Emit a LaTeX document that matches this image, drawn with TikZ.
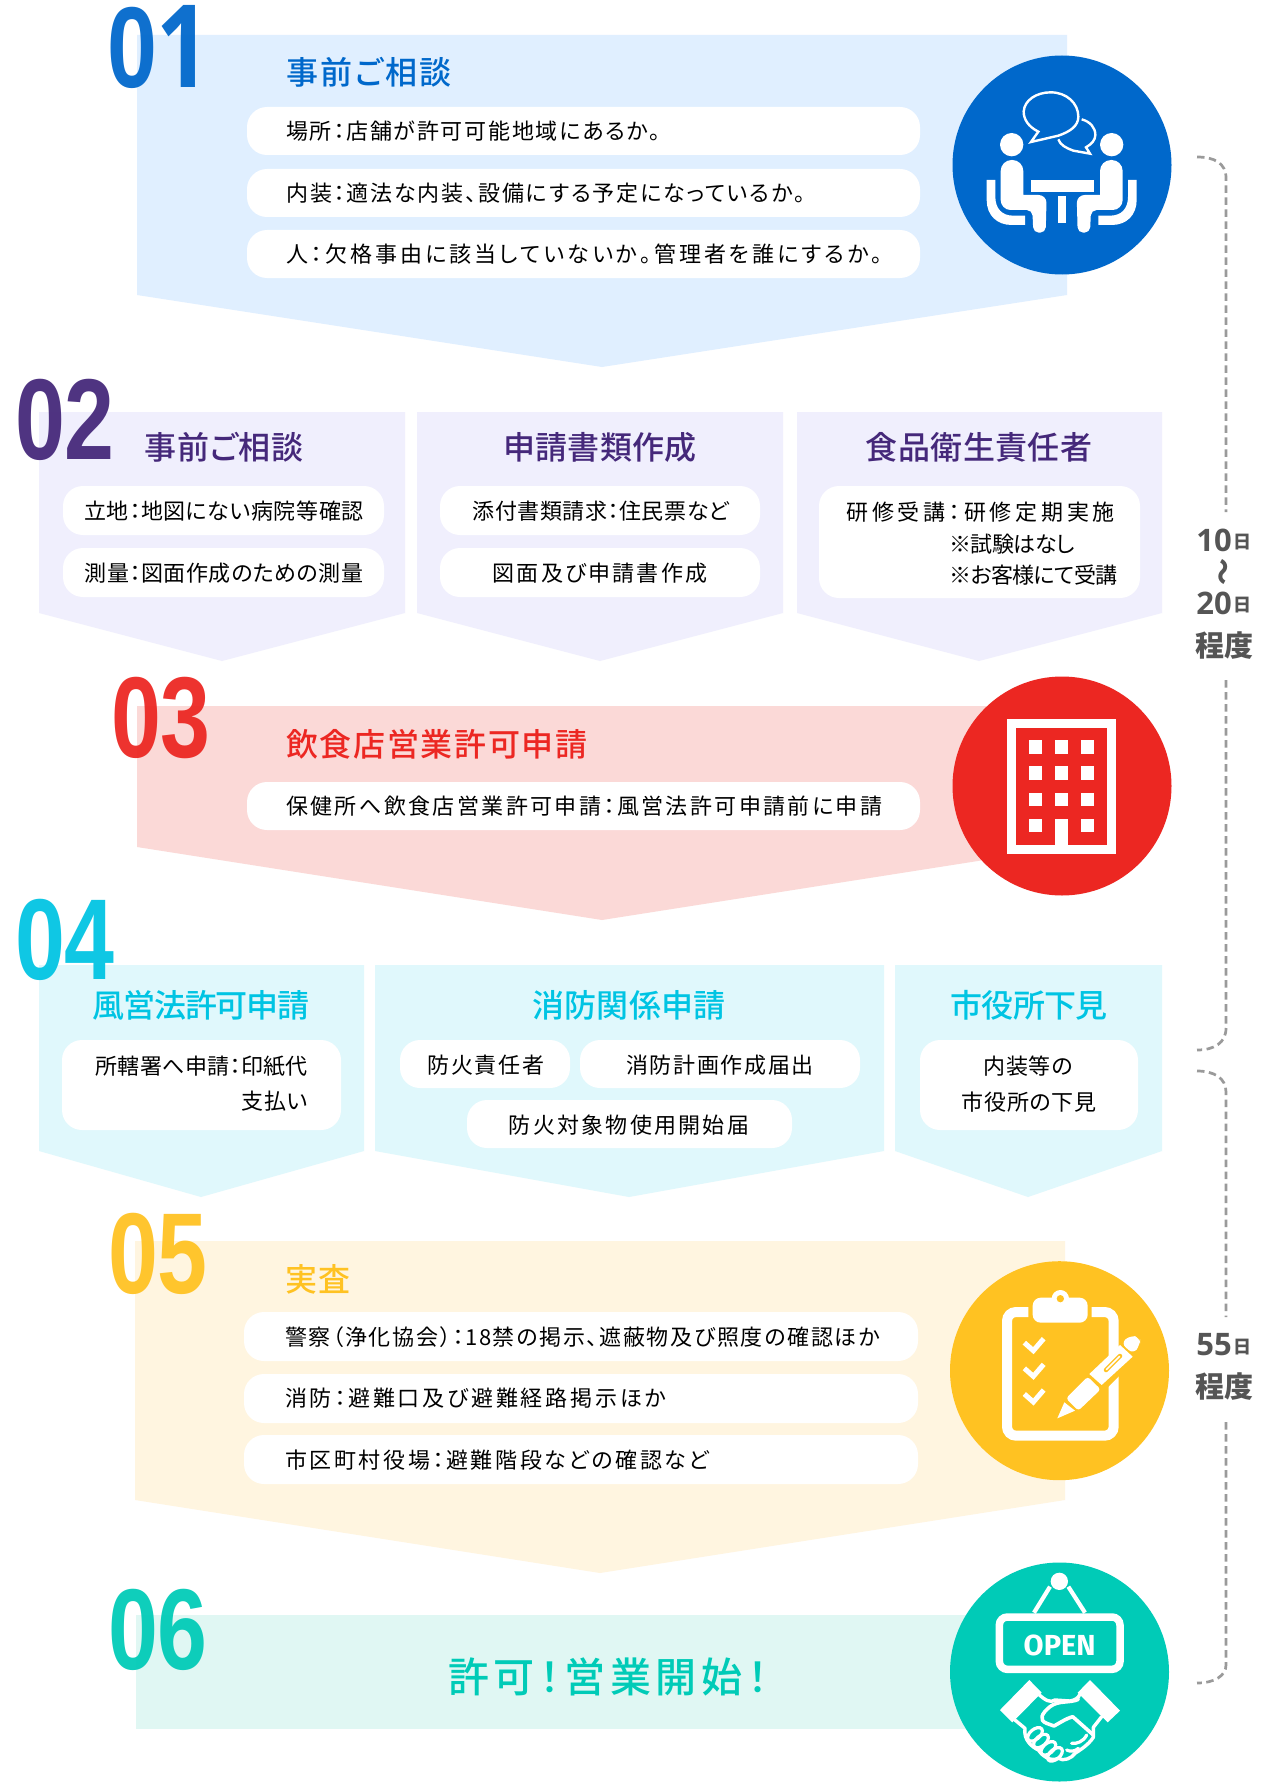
\documentclass[tikz,border=0pt]{standalone}
\usepackage{fontspec}
\setmainfont{Noto Sans CJK JP}[RawFeature={+palt}]
\newfontfamily\jpbody{Noto Sans CJK JP}[RawFeature={+palt}]
\newfontfamily\jptitle{Noto Sans CJK JP Medium}[RawFeature={+palt}]
\newfontfamily\numfont{Liberation Sans}[FakeStretch=0.78]
\newfontfamily\numone{Open Sans}[FakeStretch=0.82]
\newfontfamily\timefont{Open Sans}
\newfontfamily\openfont{Fira Sans}
\newcommand{\ls}[1]{\addfontfeature{LetterSpace=#1}}
\definecolor{cblue}{HTML}{0068CB}
\definecolor{cpurple}{HTML}{45287A}
\definecolor{cred}{HTML}{EC2722}
\definecolor{ccyan}{HTML}{00C4E3}
\definecolor{cyellow}{HTML}{FFC222}
\definecolor{cteal}{HTML}{00CBB7}
\definecolor{pblue}{HTML}{E0EFFF}
\definecolor{ppurple}{HTML}{F0EFFD}
\definecolor{pred}{HTML}{FBD9D7}
\definecolor{pcyan}{HTML}{E0F8FC}
\definecolor{pyellow}{HTML}{FFF5E0}
\definecolor{pteal}{HTML}{E0F7F3}
\definecolor{cgrey}{HTML}{555555}
\definecolor{cdash}{HTML}{9A9A9A}
\tikzset{
  pillshape/.style={fill=white,rounded corners=20pt},
  body/.style={inner sep=0,text=black,font=\jpbody\fontsize{22}{26}\selectfont,text height=19.4pt,text depth=2.6pt},
  bodyl/.style={body,anchor=west},
  bodyr/.style={body,anchor=east},
  title/.style={inner sep=0,font=\jptitle\fontsize{32}{36}\selectfont,text height=28pt,text depth=4pt},
  titlel/.style={title,anchor=west},
  bigtitle/.style={inner sep=0,font=\jptitle\fontsize{41}{44}\selectfont,text height=36pt,text depth=5pt},
  num/.style={inner sep=0,font=\numfont\bfseries\fontsize{115}{115}\selectfont,text height=83pt,text depth=0pt,text opacity=.94},
  timenum/.style={inner sep=0,text=cgrey,font=\timefont\bfseries\fontsize{31}{34}\selectfont},
  timecjk/.style={inner sep=0,text=cgrey,font=\bfseries\fontsize{18}{20}\selectfont},
  timeword/.style={inner sep=0,text=cgrey,font=\bfseries\fontsize{29}{32}\selectfont},
  timedash/.style={cdash,line width=2.7pt,dash pattern=on 7.5pt off 4.5pt},
}
\newcommand{\personpath}{%
  \fill[white] [rounded corners=11pt] (212,430) -- (212,360) -- (280,360) -- (280,440) [rounded corners=0pt] -- (280,465) [rounded corners=8pt] -- (350,465) [rounded corners=5.5pt] -- (347,578) -- (310,578) -- (307,510) [rounded corners=10pt] -- (212,510) -- cycle;
  \fill[white] (170,420) -- (196,420) -- (196,470) .. controls (196,505) and (215,527) .. (250,527) -- (285,527) -- (285,555) -- (245,555) .. controls (200,555) and (170,525) .. (170,480) -- cycle;
  \fill[white] (245,314) circle[radius=35];
}
\begin{document}
\begin{tikzpicture}[x=1pt,y=-1pt]
\useasboundingbox (0,0) rectangle (1278,1787);
\fill[white] (0,0) rectangle (1278,1787);
% panels
\fill[pblue] (137,35) -- (1067,35) -- (1067,295) -- (602,367) -- (137,295) -- cycle;
\fill[ppurple] (39,412) -- (405,412) -- (405,613) -- (222,661) -- (39,613) -- cycle;
\fill[ppurple] (417,412) -- (783,412) -- (783,613) -- (600,661) -- (417,613) -- cycle;
\fill[ppurple] (797,412) -- (1162,412) -- (1162,613) -- (979,661) -- (797,613) -- cycle;
\fill[pred] (137,706) -- (1067,706) -- (1067,847) -- (602,920) -- (137,847) -- cycle;
\fill[pcyan] (39,965) -- (364,965) -- (364,1151) -- (201,1197) -- (39,1151) -- cycle;
\fill[pcyan] (375,965) -- (884,965) -- (884,1151) -- (629,1197) -- (375,1151) -- cycle;
\fill[pcyan] (895,965) -- (1162,965) -- (1162,1151) -- (1028,1197) -- (895,1151) -- cycle;
\fill[pyellow] (135,1241) -- (1065,1241) -- (1065,1500) -- (600,1573) -- (135,1500) -- cycle;
\fill[pteal] (136,1615) rectangle (1060,1729);
% pills
\fill[pillshape] (247,107) rectangle (920,155);
\fill[pillshape] (247,169) rectangle (920,217);
\fill[pillshape] (247,230) rectangle (920,278);
\fill[pillshape] (63,486) rectangle (384,535);
\fill[pillshape] (63,548) rectangle (384,597);
\fill[pillshape] (440,486) rectangle (760,535);
\fill[pillshape] (440,548) rectangle (760,597);
\fill[pillshape] (819,486) rectangle (1140,598);
\fill[pillshape] (247,782) rectangle (920,830);
\fill[pillshape] (62,1040) rectangle (341,1130);
\fill[pillshape] (400,1040) rectangle (570,1088);
\fill[pillshape] (580,1040) rectangle (860,1088);
\fill[pillshape] (467,1100) rectangle (792,1148);
\fill[pillshape] (920,1040) rectangle (1138,1130);
\fill[pillshape] (244,1312) rectangle (918,1361);
\fill[pillshape] (244,1374) rectangle (918,1423);
\fill[pillshape] (244,1435) rectangle (918,1484);
% numbers
\node[num,text=cblue] (n1) at (159,46) {0\hspace{-1pt}{\numone\bfseries 1}};
\node[num,text=cpurple] (n2) at (65,418) {02};
\node[num,text=cred] (n3) at (161,716) {03};
\node[num,text=ccyan] (n4) at (65,938) {04};
\node[num,text=cyellow] (n5) at (158,1252) {05};
\node[num,text=cteal] (n6) at (158,1628) {06};
% section 1
\node[titlel,text=cblue] (t1) at (286,73) {\ls{7.4}事前ご相談};
\node[bodyl] (a1) at (286,131) {\ls{7.9}場所：店舗が許可可能地域にあるか。};
\node[bodyl] (a2) at (286,193) {\ls{8.4}内装：適法な内装、設備にする予定になっているか。};
\node[bodyl] (a3) at (286,254) {\ls{13.8}人：欠格事由に該当していないか。管理者を誰にするか。};
% section 2
\node[title,text=cpurple] (t2a) at (224,447) {\ls{2.4}事前ご相談};
\node[title,text=cpurple] (t2b) at (600,447) {\ls{1.2}申請書類作成};
\node[title,text=cpurple] (t2c) at (979,447) {\ls{1.4}食品衛生責任者};
\node[body] (b1) at (224,511) {\ls{2.5}立地：地図にない病院等確認};
\node[body] (b2) at (224,573) {\ls{2.5}測量：図面作成のための測量};
\node[body] (b3) at (601,511) {\ls{2.5}添付書類請求：住民票など};
\node[body] (b4) at (600,573) {\ls{9.8}図面及び申請書作成};
\node[bodyr] (b5) at (1115,512) {\ls{17}研修受講：研修定期実施};
\node[bodyl] (b6) at (949,544) {\ls{-2}※試験はなし};
\node[bodyl] (b7) at (949,575) {\ls{-2.8}※お客様にて受講};
% section 3
\node[titlel,text=cred] (t3) at (286,744) {\ls{5.2}飲食店営業許可申請};
\node[bodyl] (c1) at (286,806) {\ls{10.9}保健所へ飲食店営業許可申請：風営法許可申請前に申請};
% section 4
\node[title,text=ccyan] (t4a) at (201,1005) {\ls{-3.7}風営法許可申請};
\node[title,text=ccyan] (t4b) at (629,1005) {\ls{1.2}消防関係申請};
\node[title,text=ccyan] (t4c) at (1029,1005) {\ls{-2.5}市役所下見};
\node[bodyr] (d1) at (308,1066) {\ls{1.5}所轄署へ申請：印紙代};
\node[bodyr] (d2) at (308,1101) {\ls{3}支払い};
\node[body] (d3) at (486,1065) {\ls{7}防火責任者};
\node[body] (d4) at (720,1065) {\ls{7.5}消防計画作成届出};
\node[body] (d5) at (629,1125) {\ls{10.3}防火対象物使用開始届};
\node[body] (d6) at (1028,1066) {\ls{3}内装等の};
\node[body] (d7) at (1029,1102) {\ls{3}市役所の下見};
% section 5
\node[titlel,text=cyellow] (t5) at (285,1279) {\ls{5}実査};
\node[bodyl] (e1) at (285,1337) {\ls{7.6}警察（浄化協会）：18禁の掲示、遮蔽物及び照度の確認ほか};
\node[bodyl] (e2) at (285,1398) {\ls{12.5}消防：避難口及び避難経路掲示ほか};
\node[bodyl] (e3) at (285,1460) {\ls{11.8}市区町村役場：避難階段などの確認など};
% section 6
\node[bigtitle,text=cteal] (t6) at (608,1677) {\ls{11.4}許可！営業開始！};
% circles
\fill[cblue] (1062,165) circle[radius=109.5];
\fill[cred] (1062,786) circle[radius=109.5];
\fill[cyellow] (1059.5,1370.7) circle[radius=109.5];
\fill[cteal] (1059.5,1672) circle[radius=109.5];
% icon 1
\begin{scope}[shift={(930,40)},scale=0.33333]
  \personpath
  \begin{scope}[shift={(790,0)},xscale=-1]\personpath\end{scope}
  \fill[white] (304,420) rectangle (492,455);
  \fill[white] (384,468) rectangle (407,548);
  \draw[white,line width=2.4pt,line join=miter] (325,275) .. controls (295,260) and (281,238) .. (281,215) .. controls (283,180) and (320,157) .. (362,157) .. controls (410,157) and (445,190) .. (445,230) .. controls (445,258) and (420,275) .. (385,287) -- (303,306) -- cycle;
  \draw[white,line width=2.4pt,line join=miter] (455,238) .. controls (480,245) and (496,262) .. (496,285) .. controls (496,300) and (485,312) .. (468,322) -- (480,341) -- (430,332) .. controls (410,325) and (390,315) .. (385,298);
\end{scope}
% icon 3
\begin{scope}[shift={(930,660)},scale=0.33333]
  \fill[white] (232,176) rectangle (558,581);
  \fill[cred] (258,203) rectangle (532,554);
  \foreach \wx in {297,375,453}{\foreach \wy in {241,319,398}{\fill[white] (\wx,\wy) rectangle +(40,40);}}
  \fill[white] (297,476) rectangle +(40,40);
  \fill[white] (453,476) rectangle +(40,40);
  \fill[white] (375,476) rectangle (415,581);
\end{scope}
% icon 5
\begin{scope}[shift={(930,1250)},scale=0.33333]
  \draw[white,line width=10pt,rounded corners=9pt] (295,186) -- (231,186) -- (231,557) -- (551,557) -- (551,186) -- (485,186);
  \fill[white] (391,146) circle[radius=26];
  \fill[white,rounded corners=8pt] (308,143) rectangle (473,218);
  \fill[cyellow] (391,146) circle[radius=11];
  \foreach \cy in {0,77,154}{\draw[white,line width=5pt] (283,278+\cy) -- (310,302+\cy) -- (341,266+\cy);}
  % pen halo and body
  \fill[cyellow] (395,470) -- (595,262) -- (625,320) -- (445,500) -- cycle;
  \fill[white,rounded corners=3pt] (408,445) -- (473,380) -- (512,418) -- (445,482) -- cycle;
  \fill[white] (478,372) -- (570,285) -- (608,320) -- (515,405) -- cycle;
  \fill[white,rounded corners=6pt] (573,280) -- (600,256) -- (630,262) -- (630,285) -- (610,312) -- cycle;
  \fill[white] (403,457) -- (382,505) -- (435,482) -- cycle;
  \draw[cyellow,line width=4.5pt,line cap=round] (528,360) -- (570,318);
  \draw[white,line width=1.6pt,line cap=round] (529,359) -- (569,319);
\end{scope}
% icon 6
\begin{scope}[shift={(930,1540)},scale=0.33333]
  \fill[white] (388,124) circle[radius=26];
  \draw[white,line width=4.2pt] (360,140) -- (312,218);
  \draw[white,line width=4.2pt] (415,140) -- (465,218);
  \draw[white,line width=7.5pt,rounded corners=8pt] (208,231) rectangle (570,388);
  \node[inner sep=0,text=white,font=\openfont\bfseries\fontsize{29}{30}\selectfont] (open) at (389,315) {OPEN};
  \fill[white] (298,420) -- (335,458) -- (247,547) -- (210,510) -- cycle;
  \fill[white] (480,420) -- (570,512) -- (533,547) -- (443,458) -- cycle;
  \draw[white,line width=3.4pt,line join=round,line cap=round] (325,462) .. controls (345,480) and (360,490) .. (375,480) -- (420,483) .. controls (435,480) and (445,475) .. (450,462);
  \draw[white,line width=3.6pt,line join=round,line cap=round] (445,478) .. controls (420,490) and (385,480) .. (360,500) .. controls (335,520) and (325,540) .. (350,550) -- (372,558) .. controls (395,545) and (410,535) .. (428,530) -- (490,585);
  \draw[white,line width=3.4pt,line join=round,line cap=round] (515,530) -- (490,562) -- (490,592) .. controls (475,615) and (450,630) .. (435,640) .. controls (425,655) and (400,665) .. (385,655) .. controls (360,665) and (340,650) .. (325,630) .. controls (305,620) and (280,600) .. (285,565) -- (255,540);
  \foreach \ex/\ey in {315/583,333/603,355/625,375/643}{\draw[white,line width=3.2pt,rotate around={40:(\ex,\ey)}] (\ex,\ey) ellipse[x radius=26,y radius=15];}
  \draw[white,line width=3.2pt,line cap=round] (470,585) .. controls (460,605) and (440,612) .. (425,610);
  \draw[white,line width=3.2pt,line cap=round] (445,625) .. controls (435,635) and (420,635) .. (410,630);
\end{scope}
% time labels
\node[timenum,anchor=east] (q1) at (1232,540) {10};
\node[timecjk,anchor=west] (q2) at (1233,542) {日};
\node[inner sep=0,text=cgrey,rotate=90,font=\bfseries\fontsize{27}{28}\selectfont] (q3) at (1226,572) {〜};
\node[timenum,anchor=east] (q4) at (1232,603) {20};
\node[timecjk,anchor=west] (q5) at (1233,605) {日};
\node[timeword] (q6) at (1224,646) {程度};
\node[timenum,anchor=east] (r1) at (1232,1345) {55};
\node[timecjk,anchor=west] (r2) at (1233,1347) {日};
\node[timeword] (r3) at (1224,1387) {程度};
% dashed brackets
\coordinate (s1) at (1197,157);
\coordinate (s2) at (1226,512);
\coordinate (s3) at (1226,680);
\coordinate (s4) at (1197,1050);
\coordinate (s5) at (1197,1071);
\coordinate (s6) at (1226,1317);
\coordinate (s7) at (1226,1422);
\coordinate (s8) at (1197,1683);
\draw[timedash] (s1) .. controls (1214,157) and (1226,163) .. (1226,178) -- (s2);
\draw[timedash] (s3) -- (1226,1028) .. controls (1226,1043) and (1214,1050) .. (s4);
\draw[timedash] (s5) .. controls (1214,1071) and (1226,1078) .. (1226,1092) -- (s6);
\draw[timedash] (s7) -- (1226,1665) .. controls (1226,1676) and (1214,1683) .. (s8);
\end{tikzpicture}
\end{document}
